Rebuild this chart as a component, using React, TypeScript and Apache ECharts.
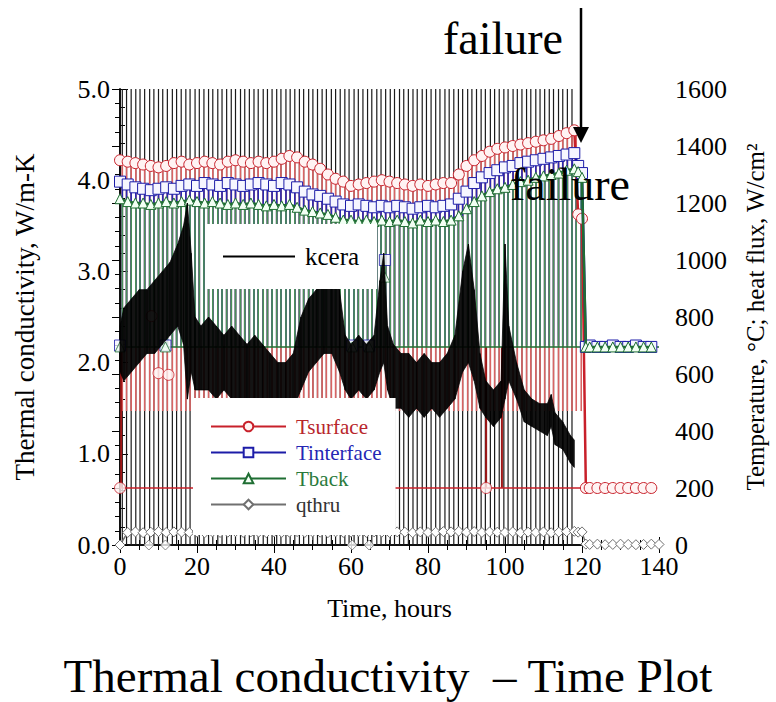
import { useEffect, useRef } from "react";
import * as echarts from "echarts";

const FONT = "'Liberation Serif', 'Times New Roman', Times, serif";

// ---------- data ----------
const trendHours = [0,2,4,6,8,10,12,14,16,18,20,22,24,26,28,30,32,34,36,38,40,42,44,46,48,50,52,54,56,58,60,62,64,66,68,70,72,74,76,78,80,82,84,86,88,90,92,94,96,98,100,102,104,106,108,110,112,114,116,118,119,120,121,122,124,126,128,130,132,134,136,138,140];

const tsurface = [1350,1345,1340,1335,1330,1325,1330,1340,1345,1335,
  1340,1345,1340,1335,1345,1350,1345,1340,1345,1340,
  1345,1355,1365,1360,1345,1335,1320,1300,1285,1275,
  1260,1265,1270,1275,1280,1275,1270,1265,1260,1265,
  1260,1265,1270,1270,1300,1330,1350,1365,1380,1390,
  1395,1400,1405,1410,1415,1420,1425,1435,1445,1455,
  1160,1145,200,200,200,200,200,200,200,200,200,200];

const tinterface = [1275,1265,1255,1250,1245,1250,1255,1250,1260,1265,
  1260,1270,1265,1260,1270,1265,1260,1265,1270,1265,
  1260,1270,1265,1255,1240,1230,1225,1215,1205,1195,
  1190,1195,1190,1185,1190,1185,1190,1185,1180,1185,
  1190,1185,1190,1195,1215,1240,1270,1290,1305,1315,
  1325,1330,1340,1345,1350,1355,1360,1365,1370,1375,
  1330,1305,695,700,695,695,700,695,695,700,695,695];

const tback = [1215,1205,1200,1200,1195,1200,1205,1200,1205,1210,
  1205,1200,1205,1200,1195,1200,1195,1200,1195,1190,
  1195,1190,1195,1185,1175,1170,1165,1160,1150,1140,
  1140,1135,1140,1135,1140,1135,1140,1135,1130,1140,
  1135,1140,1135,1140,1155,1180,1205,1225,1240,1250,
  1255,1265,1275,1280,1290,1295,1300,1305,1315,1320,
  1310,1290,695,695,695,695,695,695,695,695,695,695];

const qthru = [0,44,46,43,45,47,44,46,45,44,
  45,43,46,44,45,47,44,46,45,43,
  46,44,45,47,44,46,45,43,46,44,
  45,47,44,46,45,44,46,45,43,46,
  44,45,47,46,48,45,47,44,46,45,
  44,46,43,45,44,46,43,45,47,48,
  45,46,3,2,3,1,2,3,2,1,2,3,2];

// isolated off-cycle samples
const tsurfaceOutHours = [0, 8.2, 10, 12.6, 95.1];
const tsurfaceOutVals = [200, 803, 603, 597, 200];
const tinterfaceOutHours = [0, 11.8, 60.3, 64.7, 68.8];
const tinterfaceOutVals = [700, 700, 700, 700, 1000];
const tbackOutHours = [0, 11.8, 60.3, 64.7, 68.8];
const tbackOutVals = [695, 695, 695, 695, 940];
const qthruOutHours = [7.5, 11.8, 60.3, 64.7];
const qthruOutVals = [0, 0, 0, 0];

// heater cycling: times at which all signals drop
const cycleHours = [0.6,1.7,2.9,4.1,5.2,6.4,7.7,8.8,10.0,11.1,12.3,13.6,14.7,15.9,17.1,18.2,19.5,20.6,21.8,23.0,
  24.1,25.4,26.5,27.7,28.9,30.0,31.3,32.4,33.6,34.8,35.9,37.2,38.3,39.5,40.7,41.8,43.1,44.2,45.4,46.6,
  47.7,49.0,50.1,51.3,52.5,53.6,54.9,56.0,57.2,58.4,59.5,60.8,61.9,63.1,64.3,65.4,66.7,67.8,69.0,70.2,
  71.3,72.6,73.7,74.9,76.1,77.2,78.5,79.6,80.8,82.0,83.1,84.4,85.5,86.7,87.9,89.0,90.3,91.4,92.6,93.8,
  94.9,96.2,97.3,98.5,99.7,100.8,102.1,103.2,104.4,105.6,106.7,108.0,109.1,110.3,111.5,112.6,113.9,115.0,116.2,117.4,
  118.5,119.8];
const kceraCycleEnd = 118;
const kceraCycleRange = [0, 5];
const tsurfaceCycleLow = 470;
const tinterfaceCycleLow = 700;
const tbackCycleLow = 695;
const tsurfaceDeepDropHours = [0.3, 95.1, 99.2];
const tsurfaceDeepDropRange = [200, 695];
const tsurfaceOffLevel = 200;
const offLevelEndHour = 121;
const tbackBaseline = 695;

// kcera: noisy signal, envelope of the dense trace
const kceraHours = [0,1,3,5,7,9,11,13,15,16.5,17.5,18.5,19.5,21,23,25,27,29,31,33,35,37,39,41,43,45,47,49,51,53,55,57,58.5,60,62,64,66,67.5,68.5,69.5,71,73,75,77,79,81,83,85,87,89,90.5,92,93.5,95,97,99,100,101,103,105,107,109,111,112,113,115,117,118];
const kceraLow = [1.9,1.8,1.9,2.0,2.1,2.1,2.2,2.3,2.4,2.2,1.6,1.9,1.7,
  1.7,1.7,1.6,1.7,1.6,1.6,1.6,1.5,1.6,1.5,1.5,1.4,1.5,1.7,1.9,2.0,2.1,2.1,1.9,
  1.7,1.6,1.7,1.6,1.7,1.9,2.0,1.7,
  1.5,1.5,1.4,1.5,1.4,1.5,1.4,1.5,1.6,1.9,
  2.0,1.8,1.5,1.4,1.3,1.4,1.6,1.8,
  1.6,1.35,1.3,1.25,1.2,1.3,1.1,1.05,0.9,0.85];
const kceraHigh = [2.4,2.6,2.7,2.8,2.8,2.9,3.0,3.1,3.3,3.5,3.75,3.2,2.5,
  2.4,2.5,2.4,2.3,2.4,2.3,2.2,2.3,2.2,2.1,2.0,2.0,2.1,2.5,2.7,2.8,2.9,3.0,2.8,
  2.3,2.2,2.3,2.2,2.3,2.9,3.2,2.4,
  2.2,2.1,2.1,2.0,2.1,2.0,2.0,2.1,2.3,3.0,
  3.3,2.8,2.1,1.8,1.7,1.8,3.3,2.4,
  2.0,1.7,1.6,1.55,1.55,1.65,1.45,1.35,1.2,1.15];

const RED = "#c8202a";
const BLUE = "#1c1ca8";
const GREEN = "#1f6e33";
const GRAY = "#707070";

function zip(xs: number[], ys: number[]) {
  return xs.map((x, i) => [x, ys[i]]);
}
function nearest(h: number, xs: number[], ys: number[]) {
  let best = 0;
  for (let i = 1; i < xs.length; i++) {
    if (Math.abs(xs[i] - h) < Math.abs(xs[best] - h)) best = i;
  }
  return ys[best];
}
function spikeSeries(name: string, yAxisIndex: number, data: number[][], color: string, width: number, z: number) {
  return {
    name,
    type: "custom",
    yAxisIndex,
    z,
    silent: true,
    data,
    encode: { x: 0, y: [1, 2] },
    renderItem: (_params: any, api: any) => {
      const a = api.coord([api.value(0), api.value(1)]);
      const b = api.coord([api.value(0), api.value(2)]);
      return {
        type: "line",
        shape: { x1: a[0], y1: a[1], x2: b[0], y2: b[1] },
        style: { stroke: color, lineWidth: width },
      };
    },
  };
}

export default function App() {
  const ref = useRef<HTMLDivElement>(null);

  useEffect(() => {
    if (!ref.current) return;
    const chart = echarts.init(ref.current, null, { renderer: "svg" });

    const kceraSpikes = cycleHours.filter((h) => h <= kceraCycleEnd).map((h) => [h, kceraCycleRange[0], kceraCycleRange[1]]);
    const tsSpikes = cycleHours.map((h) => [h, tsurfaceCycleLow, nearest(h, trendHours, tsurface)]);
    const tiSpikes = cycleHours.map((h) => [h, tinterfaceCycleLow, nearest(h, trendHours, tinterface)]);
    const tbSpikes = cycleHours.map((h) => [h, tbackCycleLow, nearest(h, trendHours, tback)]);
    const deepDrops = tsurfaceDeepDropHours.map((h) => [h, tsurfaceDeepDropRange[0], tsurfaceDeepDropRange[1]]);
    const kceraBand = kceraHours.slice(0, -1).map((h, i) => [
      h, kceraLow[i], kceraHigh[i], kceraHours[i + 1], kceraLow[i + 1], kceraHigh[i + 1],
    ]);

    const axisLine = { show: true, lineStyle: { color: "#000", width: 1.5 } };
    const labelStyle = { fontFamily: FONT, fontSize: 26, color: "#000" };
    const nameStyle = { fontFamily: FONT, fontSize: 26, color: "#000" };

    const option: any = {
      animation: false,
      backgroundColor: "#fff",
      textStyle: { fontFamily: FONT },
      title: {
        text: "Thermal conductivity  – Time Plot",
        left: "center",
        top: 647,
        textStyle: { fontFamily: FONT, fontSize: 47, fontWeight: "normal", color: "#000" },
      },
      grid: { left: 120, top: 89, width: 545, height: 456, containLabel: false },
      xAxis: [
        {
          type: "value", min: 0, max: 140, interval: 20, position: "bottom",
          name: "Time, hours", nameLocation: "middle", nameGap: 50, nameTextStyle: nameStyle,
          axisLine, splitLine: { show: false },
          axisTick: { inside: true, length: 8, lineStyle: { color: "#000" } },
          minorTick: { show: true, splitNumber: 4, length: 5, lineStyle: { color: "#000" } },
          axisLabel: { ...labelStyle, margin: 8 },
        },
        {
          type: "value", min: 0, max: 140, interval: 20, position: "top",
          axisLine, splitLine: { show: false },
          axisTick: { inside: true, length: 8, lineStyle: { color: "#000" } },
          minorTick: { show: true, splitNumber: 4, length: 5, lineStyle: { color: "#000" } },
          axisLabel: { show: false },
        },
      ],
      yAxis: [
        {
          type: "value", min: 0, max: 5, interval: 1, position: "left",
          name: "Thermal conductivity, W/m-K", nameLocation: "middle", nameGap: 82, nameRotate: 90,
          nameTextStyle: { ...nameStyle, fontSize: 27 },
          axisLine, splitLine: { show: false },
          axisTick: { inside: true, length: 8, lineStyle: { color: "#000" } },
          minorTick: { show: true, splitNumber: 5, length: 5, lineStyle: { color: "#000" } },
          axisLabel: { ...labelStyle, margin: 10, formatter: (v: number) => v.toFixed(1) },
        },
        {
          type: "value", min: 0, max: 1600, interval: 200, position: "right",
          name: "Temperature, °C; heat flux, W/cm²", nameLocation: "middle", nameGap: 84, nameRotate: 90,
          nameTextStyle: { ...nameStyle, fontSize: 25 },
          axisLine, splitLine: { show: false },
          axisTick: { inside: true, length: 8, lineStyle: { color: "#000" } },
          minorTick: { show: true, splitNumber: 4, length: 5, lineStyle: { color: "#000" } },
          axisLabel: { ...labelStyle, margin: 16, formatter: (v: number) => String(v) },
        },
      ],
      legend: [
        {
          data: [{ name: "kcera", icon: "rect", itemStyle: { color: "#000" } }],
          left: 207, top: 224, orient: "horizontal",
          backgroundColor: "#fff", padding: [20, 18, 20, 16],
          itemWidth: 72, itemHeight: 2,
          textStyle: { fontFamily: FONT, fontSize: 25, color: "#000", padding: [0, 0, 0, 5] },
          selectedMode: false, z: 20,
        },
        {
          data: [
            { name: "Tsurface", textStyle: { color: "#b8262c" } },
            { name: "Tinterface", textStyle: { color: "#2626b4" } },
            { name: "Tback", textStyle: { color: "#2a7a3c" } },
            { name: "qthru", textStyle: { color: "#333" } },
          ],
          left: 193, top: 398, orient: "vertical",
          backgroundColor: "#fff", padding: [18, 14, 20, 17],
          itemWidth: 75, itemHeight: 12, itemGap: 5,
          textStyle: { fontFamily: FONT, fontSize: 21, lineHeight: 21, padding: [0, 0, 0, 5] },
          selectedMode: false, z: 20,
        },
      ],
      series: [
        spikeSeries("kcera cycles", 0, kceraSpikes, "#1a1a1a", 1.2, 1),
        spikeSeries("Tsurface cycles", 1, tsSpikes, "#d86464", 1.6, 2),
        spikeSeries("Tsurface drops", 1, deepDrops, "#a01818", 2, 2),
        spikeSeries("Tinterface cycles", 1, tiSpikes, "#2a2ab0", 1.6, 3),
        spikeSeries("Tback cycles", 1, tbSpikes, "#4a9159", 1.6, 4),
        {
          name: "Tsurface", type: "line", yAxisIndex: 1, z: 5,
          data: zip(trendHours, tsurface),
          symbol: "circle", symbolSize: 11, showSymbol: true,
          lineStyle: { color: RED, width: 2.5 },
          itemStyle: { color: "#fff3f3", borderColor: RED, borderWidth: 1 },
          markLine: {
            silent: true, symbol: "none", label: { show: false },
            lineStyle: { color: RED, width: 1.5, type: "solid" },
            data: [[{ coord: [0, tsurfaceOffLevel] }, { coord: [offLevelEndHour, tsurfaceOffLevel] }]],
          },
        },
        {
          name: "Tsurface", type: "scatter", yAxisIndex: 1, z: 5,
          data: zip(tsurfaceOutHours, tsurfaceOutVals),
          symbol: "circle", symbolSize: 11,
          itemStyle: { color: "#fff3f3", borderColor: RED, borderWidth: 1 },
        },
        {
          name: "Tinterface", type: "line", yAxisIndex: 1, z: 6,
          data: zip(trendHours, tinterface),
          symbol: "rect", symbolSize: 11, showSymbol: true,
          lineStyle: { color: BLUE, width: 2.5 },
          itemStyle: { color: "#f6f6ff", borderColor: BLUE, borderWidth: 1 },
        },
        {
          name: "Tinterface", type: "scatter", yAxisIndex: 1, z: 6,
          data: zip(tinterfaceOutHours, tinterfaceOutVals),
          symbol: "rect", symbolSize: 11,
          itemStyle: { color: "#f6f6ff", borderColor: BLUE, borderWidth: 1 },
        },
        {
          name: "Tback", type: "line", yAxisIndex: 1, z: 7,
          data: zip(trendHours, tback),
          symbol: "triangle", symbolSize: 10, showSymbol: true,
          lineStyle: { color: GREEN, width: 2.5 },
          itemStyle: { color: "#f2fff4", borderColor: GREEN, borderWidth: 1 },
          markLine: {
            silent: true, symbol: "none", label: { show: false },
            lineStyle: { color: GREEN, width: 1.5, type: "solid" },
            data: [{ yAxis: tbackBaseline }],
          },
        },
        {
          name: "Tback", type: "scatter", yAxisIndex: 1, z: 7,
          data: zip(tbackOutHours, tbackOutVals),
          symbol: "triangle", symbolSize: 10,
          itemStyle: { color: "#f2fff4", borderColor: GREEN, borderWidth: 1 },
        },
        {
          name: "qthru", type: "line", yAxisIndex: 1, z: 8,
          data: zip(trendHours, qthru),
          symbol: "diamond", symbolSize: 10, showSymbol: true,
          lineStyle: { color: GRAY, width: 1.5 },
          itemStyle: { color: "#fff", borderColor: GRAY, borderWidth: 1 },
        },
        {
          name: "qthru", type: "scatter", yAxisIndex: 1, z: 8,
          data: zip(qthruOutHours, qthruOutVals),
          symbol: "diamond", symbolSize: 10,
          itemStyle: { color: "#fff", borderColor: GRAY, borderWidth: 1 },
        },
        {
          name: "kcera", type: "custom", yAxisIndex: 0, z: 9, silent: true,
          data: kceraBand,
          encode: { x: [0, 3], y: [1, 2, 4, 5] },
          itemStyle: { color: "#000" },
          renderItem: (_params: any, api: any) => {
            const pts = [
              api.coord([api.value(0), api.value(1)]),
              api.coord([api.value(0), api.value(2)]),
              api.coord([api.value(3), api.value(5)]),
              api.coord([api.value(3), api.value(4)]),
            ];
            return {
              type: "polygon",
              shape: { points: pts },
              style: { fill: "#000", stroke: "#000", lineWidth: 0.8, opacity: 0.92 },
            };
          },
        },
      ],
      graphic: [
        { type: "text", x: 443, y: 38, z: 30, style: { text: "failure", font: `46px ${FONT}`, fill: "#000", verticalAlign: "middle" } },
        { type: "text", x: 510, y: 184, z: 30, style: { text: "failure", font: `46px ${FONT}`, fill: "#000", verticalAlign: "middle" } },
        { type: "line", z: 30, shape: { x1: 581, y1: 8, x2: 581, y2: 130 }, style: { stroke: "#000", lineWidth: 2.5 } },
        { type: "polygon", z: 30, shape: { points: [[573, 127], [589, 127], [581, 143]] }, style: { fill: "#000" } },
      ],
    };

    chart.setOption(option);
    return () => chart.dispose();
  }, []);

  return (
    <div
      ref={ref}
      style={{ position: "fixed", left: 0, top: 0, width: 776, height: 702, background: "#fff" }}
    />
  );
}
